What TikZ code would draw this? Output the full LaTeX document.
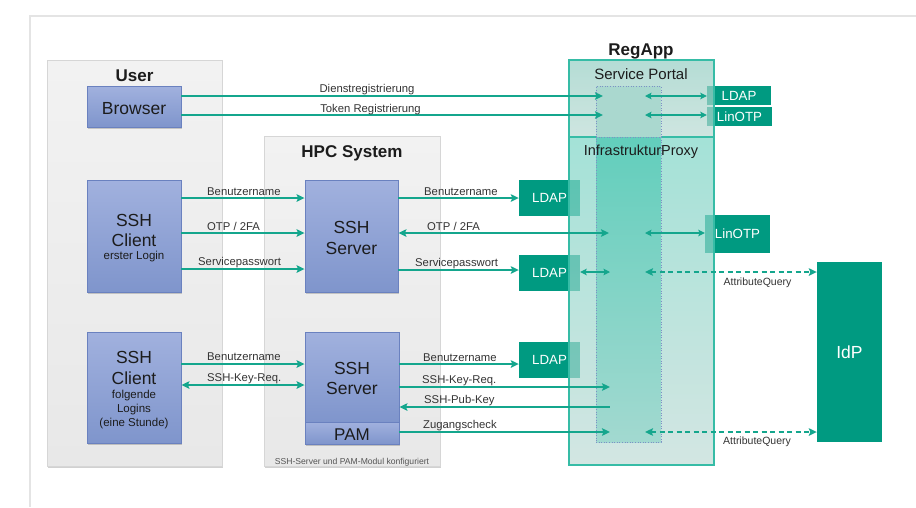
\documentclass[tikz,border=0pt]{standalone}
\usepackage{fontspec}
\setmainfont{Liberation Sans}
\usetikzlibrary{arrows.meta,shadows}

\definecolor{frame}{HTML}{E4E4E4}
\definecolor{contline}{HTML}{D6D6D6}
\definecolor{conttop}{HTML}{F2F2F2}
\definecolor{contbot}{HTML}{E8E8E8}
\definecolor{bluetop}{HTML}{A1B1DE}
\definecolor{bluebot}{HTML}{7F95CC}
\definecolor{blueline}{HTML}{6A81BF}
\definecolor{tealdark}{HTML}{009A81}
\definecolor{tealline}{HTML}{36BCA6}
\definecolor{arrowc}{HTML}{14A68D}
\definecolor{sptop}{HTML}{95CEC3}
\definecolor{spbot}{HTML}{BADAD3}
\definecolor{pxtop}{HTML}{7DD5C6}
\definecolor{pxbot}{HTML}{C0DBD6}
\definecolor{coltop}{HTML}{62CEBC}
\definecolor{colbot}{HTML}{A2D9D0}
\definecolor{colsp}{HTML}{AAD8CF}
\definecolor{coldot}{HTML}{7D90C6}
\definecolor{txt}{HTML}{1C1C1C}
\definecolor{lbl}{HTML}{333333}
\definecolor{note}{HTML}{555555}

\tikzset{
  shd/.style={drop shadow={shadow xshift=1.2pt,shadow yshift=-1.6pt,opacity=0.18,fill=black}},
  cont/.style={draw=contline,line width=0.8pt,top color=conttop,bottom color=contbot,shd,inner sep=0pt},
  bluebox/.style={draw=blueline,line width=0.9pt,top color=bluetop,bottom color=bluebot,shd,inner sep=0pt},
  tealbox/.style={fill=tealdark,text=white,inner sep=0pt,font=\fontsize{13.3}{15}\selectfont},
  regbox/.style={draw=tealline,line width=1.4pt,fill opacity=0.7,text opacity=1,inner sep=0pt},
  ttl/.style={font=\fontsize{17}{20}\selectfont\bfseries,text=txt,inner sep=0pt,anchor=base},
  big/.style={font=\fontsize{17.5}{20}\selectfont,text=txt,inner sep=0pt,anchor=base},
  sml/.style={font=\fontsize{11.5}{13}\selectfont,text=txt,inner sep=0pt,anchor=base},
  sect/.style={font=\fontsize{15}{18}\selectfont,text=txt,inner sep=0pt,anchor=base},
  lab/.style={font=\fontsize{11.3}{13}\selectfont,text=lbl,inner sep=0pt,anchor=base west},
  qlab/.style={font=\fontsize{10.5}{12}\selectfont,text=lbl,inner sep=0pt,anchor=base},
  flow/.style={draw=arrowc,line width=1.7pt},
  thinflow/.style={draw=arrowc,line width=1.1pt},
  query/.style={draw=arrowc,line width=1.7pt,dash pattern=on 5pt off 3.5pt},
  fwd/.style={-{Stealth[length=8pt,width=7.5pt,inset=1.5pt]}},
  bwd/.style={{Stealth[length=8pt,width=7.5pt,inset=1.5pt]}-},
  both/.style={{Stealth[length=8pt,width=7.5pt,inset=1.5pt]}-{Stealth[length=8pt,width=7.5pt,inset=1.5pt]}},
  smallboth/.style={{Stealth[length=6.5pt,width=6.5pt,inset=1.2pt]}-{Stealth[length=6.5pt,width=6.5pt,inset=1.2pt]}},
}

\begin{document}
\begin{tikzpicture}[x=1pt,y=-1pt]
\useasboundingbox (0,0) rectangle (916,507);

% slide frame
\draw[frame,line width=2pt] (30,507) -- (30,16) -- (916,16);

% containers
\node[cont,minimum width=175pt,minimum height=406pt] (user) at (134.5,263) {};
\node[cont,minimum width=176pt,minimum height=330pt] (hpc) at (352,301) {};

% user side
\node[bluebox,minimum width=94pt,minimum height=41pt] (browser) at (134,106.5) {};
\node[bluebox,minimum width=94pt,minimum height=112pt] (cl1) at (134,236) {};
\node[bluebox,minimum width=94pt,minimum height=111pt] (cl2) at (134,387.5) {};

% HPC side
\node[bluebox,minimum width=93pt,minimum height=112pt] (srv1) at (351.5,236) {};
\node[bluebox,minimum width=94pt,minimum height=90pt] (srv2) at (352,377) {};
\node[bluebox,minimum width=94pt,minimum height=22pt] (pam) at (352,433) {};

% backend services
\node[tealbox,minimum width=64pt,minimum height=19pt] (ldapA) at (739,95.5) {LDAP};
\node[tealbox,minimum width=65pt,minimum height=19pt] (otpA) at (739.5,116.5) {LinOTP};
\node[tealbox,minimum width=61pt,minimum height=36pt] (ldapB) at (549.5,198) {LDAP};
\node[tealbox,minimum width=65pt,minimum height=38pt] (otpB) at (737.5,234) {LinOTP};
\node[tealbox,minimum width=61pt,minimum height=36pt] (ldapC) at (549.5,273) {LDAP};
\node[tealbox,minimum width=61pt,minimum height=36pt] (ldapD) at (549.5,360) {LDAP};
\node[tealbox,minimum width=65pt,minimum height=180pt,font=\fontsize{17.5}{20}\selectfont] (idp) at (849.5,352) {IdP};

% RegApp: service portal and infrastructure proxy
\node[regbox,top color=sptop,bottom color=spbot,minimum width=145pt,minimum height=77pt] (sp) at (641.5,98.5) {};
\node[regbox,top color=pxtop,bottom color=pxbot,minimum width=145pt,minimum height=328pt] (proxy) at (641.5,301) {};
\node[fill=colsp,draw=coldot,dotted,line width=0.6pt,minimum width=65pt,minimum height=51pt,inner sep=0pt] (colA) at (628.5,111.5) {};
\node[top color=coltop,bottom color=colbot,draw=coldot,dotted,line width=0.6pt,minimum width=65pt,minimum height=305pt,inner sep=0pt] (colB) at (628.5,289.5) {};

% titles
\node[ttl] (tUser) at (134.5,81.7) {User};
\node[ttl] (tHpc) at (352,157.5) {HPC System};
\node[ttl] (tReg) at (641,55.8) {RegApp};
\node[sect] (tSp) at (641,79) {Service Portal};
\node[sect,font=\fontsize{14.5}{17}\selectfont] (tPx) at (641,155.5) {InfrastrukturProxy};
\node[font=\fontsize{8.6}{10}\selectfont,text=note,inner sep=0pt,anchor=base] (tNote) at (352,464) {SSH-Server und PAM-Modul konfiguriert};

% box texts
\node[big] (tBrowser) at (134,114) {Browser};
\node[big] (tC1a) at (134,226) {SSH};
\node[big] (tC1b) at (134,246.5) {Client};
\node[sml] (tC1c) at (134,259.5) {erster Login};
\node[big] (tC2a) at (134,363) {SSH};
\node[big] (tC2b) at (134,384) {Client};
\node[sml] (tC2c) at (134,398.5) {folgende};
\node[sml] (tC2d) at (134,412.5) {Logins};
\node[sml] (tC2e) at (134,426.5) {(eine Stunde)};
\node[big] (tS1a) at (351.5,233) {SSH};
\node[big] (tS1b) at (351.5,254) {Server};
\node[big] (tS2a) at (352,374) {SSH};
\node[big] (tS2b) at (352,394.5) {Server};
\node[big,font=\fontsize{17}{20}\selectfont] (tPam) at (352,440) {PAM};

% end points inside the RegApp
\coordinate (pDienst) at (603,96);
\coordinate (pToken) at (603,115);
\coordinate (qDienst) at (645,96);
\coordinate (qToken) at (645,115);
\coordinate (pOtp) at (609,233);
\coordinate (qOtp) at (645,233);
\coordinate (pSvc) at (610,272);
\coordinate (qSvc) at (645,272);
\coordinate (pKey) at (610,387);
\coordinate (pPub) at (610,407);
\coordinate (pChk) at (610,432);
\coordinate (qChk) at (645,432);

% browser registrations
\draw[flow,fwd] (browser.east |- pDienst) -- (pDienst);
\draw[flow,fwd] (browser.east |- pToken) -- (pToken);
\node[lab,anchor=base] (lDienst) at (367,92.5) {Dienstregistrierung};
\node[lab,anchor=base] (lToken) at (370.5,112) {Token Registrierung};
\draw[thinflow,smallboth] (qDienst) -- (ldapA.west |- qDienst);
\draw[thinflow,smallboth] (qToken) -- (otpA.west |- qToken);

% first login: client to server
\coordinate (y1) at (0,198);
\coordinate (y2) at (0,233);
\coordinate (y3) at (0,269);
\draw[flow,fwd] (cl1.east |- y1) -- (srv1.west |- y1);
\draw[flow,fwd] (cl1.east |- y2) -- (srv1.west |- y2);
\draw[flow,fwd] (cl1.east |- y3) -- (srv1.west |- y3);
\node[lab] (lC1a) at (207,195.5) {Benutzername};
\node[lab] (lC1b) at (207,230.5) {OTP / 2FA};
\node[lab] (lC1c) at (198,265.5) {Servicepasswort};

% first login: server to backends
\draw[flow,fwd] (srv1.east |- y1) -- (ldapB.west |- y1);
\draw[flow,both] (srv1.east |- pOtp) -- (pOtp);
\draw[flow,fwd] (srv1.east |- 0,270) -- (ldapC.west |- 0,270);
\node[lab] (lS1a) at (424,195.5) {Benutzername};
\node[lab] (lS1b) at (427,230.5) {OTP / 2FA};
\node[lab] (lS1c) at (415,266) {Servicepasswort};
\draw[thinflow,smallboth] (qOtp) -- (otpB.west |- qOtp);
\draw[thinflow,smallboth] (ldapC.east |- pSvc) -- (pSvc);
\draw[query,both] (qSvc) -- (idp.west |- qSvc);
\node[qlab] (lQ1) at (757.5,285.5) {AttributeQuery};

% following logins: client to server
\coordinate (y4) at (0,364);
\coordinate (y5) at (0,385);
\draw[flow,fwd] (cl2.east |- y4) -- (srv2.west |- y4);
\draw[flow,both] (cl2.east |- y5) -- (srv2.west |- y5);
\node[lab] (lC2a) at (207,360.5) {Benutzername};
\node[lab] (lC2b) at (207,381.5) {SSH-Key-Req.};

% following logins: server to backends
\draw[flow,fwd] (srv2.east |- y4) -- (ldapD.west |- y4);
\draw[flow,fwd] (srv2.east |- pKey) -- (pKey);
\draw[flow,bwd] (srv2.east |- pPub) -- (pPub);
\draw[flow,fwd] (pam.east |- pChk) -- (pChk);
\node[lab] (lS2a) at (423,361) {Benutzername};
\node[lab] (lS2b) at (422,383) {SSH-Key-Req.};
\node[lab] (lS2c) at (424,403.5) {SSH-Pub-Key};
\node[lab] (lS2d) at (423,428.5) {Zugangscheck};
\draw[query,both] (qChk) -- (idp.west |- qChk);
\node[qlab] (lQ2) at (757,444) {AttributeQuery};
\end{tikzpicture}
\end{document}
